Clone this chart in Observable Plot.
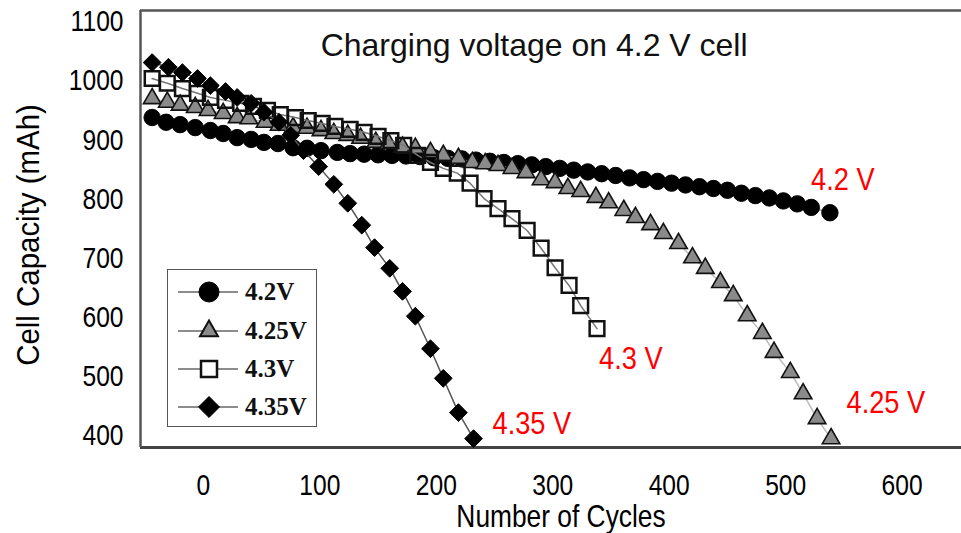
<!DOCTYPE html>
<html><head><meta charset="utf-8">
<script src="https://cdn.jsdelivr.net/npm/d3@7"></script>
<script src="https://cdn.jsdelivr.net/npm/@observablehq/plot@0.6"></script>
<style>
body{margin:0;background:#fff;}
#wrap{position:relative;width:961px;height:533px;overflow:hidden;}
#legend{position:absolute;left:167px;top:269px;width:150px;height:158px;border:1.5px solid #555;box-sizing:border-box;background:#fff;}
.row{position:absolute;left:0;height:30px;display:flex;align-items:center;}
.row svg{display:block;}
.row span{font-family:"Liberation Serif","Times New Roman",serif;font-weight:bold;font-size:25px;margin-left:3px;color:#111;}
</style></head><body><div id="wrap"></div>
<script>
// ---- data ----
const xTicks = [0, 100, 200, 300, 400, 500, 600];
const yTicks = [400, 500, 600, 700, 800, 900, 1000, 1100];
const xDomain = [-54, 651];
const yDomain = [380, 1119];

const cyc42 = [-44,-32,-20,-7,6,17,29,41,52,64,77,89,101,115,126,138,150,162,174,186,198,210,222,234,246,258,270,282,294,306,318,330,342,354,366,378,390,402,414,426,438,450,462,474,486,498,510,522,538];
const cap42 = [938,930,926,921,916,911,904,901,896,894,887,886,882,879,877,876,875,874,873,872,870,869,868,866,864,862,860,858,855,852,849,846,843,840,836,833,830,827,824,821,818,815,810,806,802,797,792,786,777];

const cyc425 = [-44,-31,-20,-7,4,17,29,39,53,65,77,89,101,112,124,135,148,159,171,182,195,206,219,231,242,253,265,277,290,302,313,324,337,348,361,371,384,395,408,420,431,444,455,467,480,490,504,515,527,539];
const cap425 = [970,964,959,955,950,945,938,936,930,925,921,920,916,911,908,903,896,894,888,886,879,874,869,862,860,857,852,845,833,828,818,813,803,794,781,769,757,742,725,701,683,659,637,603,573,541,507,471,429,395];

const cyc43 = [-44,-31,-18,-5,6,19,32,43,55,66,79,90,102,113,126,138,150,161,172,184,195,206,218,229,241,253,265,278,290,302,314,324,338];
const cap43 = [1004,996,987,979,972,967,962,957,950,943,938,933,928,923,918,913,906,899,891,874,862,852,844,827,801,784,767,747,717,684,654,620,581];

const cyc435 = [-44,-30,-18,-5,6,19,29,41,52,65,75,86,99,112,124,136,147,160,171,182,195,206,219,232];
const cap435 = [1031,1023,1014,1004,992,982,972,962,947,930,908,882,855,825,793,756,718,683,644,602,547,497,439,395];

const seriesNames = ["4.2V", "4.25V", "4.3V", "4.35V"];
const noteText = ["4.2 V", "4.3 V", "4.25 V", "4.35 V"];
const noteX = [549, 367, 586, 282];
const noteY = [832, 530, 456, 420];
const titleText = ["Charging voltage on 4.2 V cell"];
const titleX = [284];
const titleY = [1060];
const xLabel = ["Number of Cycles"];
const yLabel = ["Cell Capacity (mAh)"];

// ---- build tables ----
const zip = (xs, ys) => xs.map((x, i) => ({x, y: ys[i]}));
const d42 = zip(cyc42, cap42), d425 = zip(cyc425, cap425), d43 = zip(cyc43, cap43), d435 = zip(cyc435, cap435);
const notes = noteText.map((t, i) => ({t, x: noteX[i], y: noteY[i]}));
const titles = titleText.map((t, i) => ({t, x: titleX[i], y: titleY[i]}));

const sans = '"Liberation Sans",Arial,sans-serif';

const chart = Plot.plot({
  width: 961, height: 533,
  marginLeft: 140, marginRight: 0, marginTop: 10, marginBottom: 86,
  x: {domain: xDomain},
  y: {domain: yDomain},
  style: {fontFamily: sans, color: "#000", background: "transparent", overflow: "visible"},
  marks: [
    Plot.axisX(xTicks, {tickSize: 0, tickPadding: 26, fontSize: 30, label: null, tickFormat: d => String(d)}),
    Plot.axisY(yTicks, {tickSize: 0, tickPadding: 17, fontSize: 30, label: null, tickFormat: d => String(d)}),
    Plot.text(xLabel, {text: d => d, frameAnchor: "bottom", textAnchor: "middle", lineAnchor: "middle", dy: 70, dx: 10, fontSize: 31}),
    Plot.text(yLabel, {text: d => d, frameAnchor: "left", textAnchor: "middle", lineAnchor: "middle", dx: -112, dy: 6, rotate: -90, fontSize: 32}),
    Plot.ruleY([yDomain[0]], {stroke: "#444", strokeWidth: 3}),
    Plot.ruleY([yDomain[1]], {stroke: "#555", strokeWidth: 2.5}),
    Plot.ruleX([xDomain[0]], {stroke: "#555", strokeWidth: 2.5}),
    Plot.text(titles, {x: "x", y: "y", text: "t", fontSize: 32, fill: "#111"}),
    Plot.line(d42, {x: "x", y: "y", stroke: "#666", strokeWidth: 1}),
    Plot.dot(d42, {x: "x", y: "y", symbol: "circle", r: 8.2, fill: "#000", stroke: "#000", strokeWidth: 1}),
    Plot.line(d425, {x: "x", y: "y", stroke: "#bbb", strokeWidth: 1.5}),
    Plot.dot(d425, {x: "x", y: "y", symbol: "triangle", r: 6.5, fill: "#8a8a8a", stroke: "#111", strokeWidth: 1.6}),
    Plot.line(d43, {x: "x", y: "y", stroke: "#777", strokeWidth: 1.5}),
    Plot.dot(d43, {x: "x", y: "y", symbol: "square", r: 8.3, fill: "none", stroke: "#111", strokeWidth: 2.5}),
    Plot.line(d435, {x: "x", y: "y", stroke: "#555", strokeWidth: 1.5}),
    Plot.dot(d435, {x: "x", y: "y", symbol: "diamond2", r: 8, fill: "#000", stroke: "#000", strokeWidth: 1}),
    Plot.text(notes, {x: "x", y: "y", text: "t", fill: "#ff0000", fontSize: 32})
  ]
});
document.getElementById("wrap").appendChild(chart);

// condense glyphs horizontally (the reference uses a narrow face), about each text's own anchor
function condense(el, s) {
  let b;
  try { b = el.getBBox(); } catch (e) { return; }
  if (!b || !isFinite(b.x) || !isFinite(b.width)) return;
  const anchor = getComputedStyle(el).textAnchor || "start";
  const ax = anchor === "end" ? b.x + b.width : anchor === "middle" ? b.x + b.width / 2 : b.x;
  const ay = b.y + b.height / 2;
  const t = el.getAttribute("transform") || "";
  el.setAttribute("transform", `${t} translate(${ax} ${ay}) scale(${s} 1) translate(${-ax} ${-ay})`.trim());
}
chart.querySelectorAll("text").forEach(el => {
  const s = el.textContent;
  if (/^\d+$/.test(s)) condense(el, 0.82);
  else if (s === xLabel[0]) condense(el, 0.85);
  else if (s === yLabel[0]) condense(el, 0.92);
  else if (noteText.includes(s)) condense(el, 0.85);
});

// ---- legend (inside plot area) ----
const legend = document.createElement("div");
legend.id = "legend";
const legSym = [
  {sym: d3.symbolCircle, size: 314, fill: "#000", stroke: "#000", sw: 1},
  {sym: d3.symbolTriangle, size: 140, fill: "#8a8a8a", stroke: "#111", sw: 2},
  {sym: d3.symbolSquare, size: 256, fill: "#fff", stroke: "#111", sw: 2.5},
  {sym: d3.symbolDiamond2, size: 281, fill: "#000", stroke: "#000", sw: 1}
];
const rowTops = [7, 46, 84, 122];
seriesNames.forEach((name, i) => {
  const row = document.createElement("div");
  row.className = "row";
  row.style.top = rowTops[i] + "px";
  const s = legSym[i];
  const path = d3.symbol(s.sym, s.size)();
  row.innerHTML = `<svg width="74" height="30"><line x1="10" x2="70" y1="15" y2="15" stroke="#666" stroke-width="1.5"/><path transform="translate(41,15)" d="${path}" fill="${s.fill}" stroke="${s.stroke}" stroke-width="${s.sw}"/></svg><span>${name}</span>`;
  legend.appendChild(row);
});
document.getElementById("wrap").appendChild(legend);
</script>
</body></html>
